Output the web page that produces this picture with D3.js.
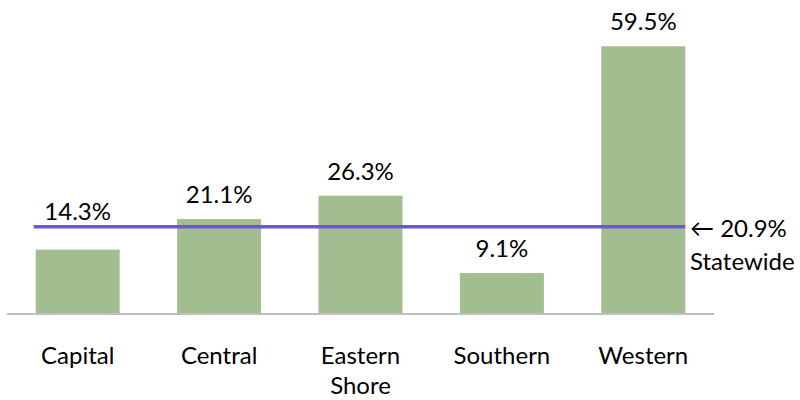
<!DOCTYPE html>
<html>
<head>
<meta charset="utf-8">
<script src="https://cdn.jsdelivr.net/npm/d3@7"></script>
<style>
  body { margin: 0; background: #fff; }
  text { font-family: Lato, "Open Sans", sans-serif; fill: #000; }
</style>
</head>
<body>
<div id="chart"></div>
<script>
const regions = [["Capital"], ["Central"], ["Eastern", "Shore"], ["Southern"], ["Western"]];
const shares = [14.3, 21.1, 26.3, 9.1, 59.5];
const statewide = 20.9;
// the reference line sits a little below 20.9 in the picture
const statewideDrawn = 19.4;

const width = 800, height = 400;
const svg = d3.select("#chart").append("svg")
  .attr("width", width)
  .attr("height", height);

const x = d3.scaleBand()
  .domain(d3.range(regions.length))
  .range([7, 714])
  .paddingInner(0.406)
  .paddingOuter(0.203);

const y = d3.scaleLinear()
  .domain([0, 60])
  .range([314, 44]);

// bars
svg.append("g")
  .selectAll("rect")
  .data(shares)
  .enter()
  .append("rect")
  .attr("x", (d, i) => x(i))
  .attr("y", d => y(d))
  .attr("width", x.bandwidth())
  .attr("height", d => y(0) - y(d))
  .style("fill", "#a2bd8f");

// baseline
svg.append("line")
  .attr("x1", x.range()[0])
  .attr("x2", x.range()[1])
  .attr("y1", y(0))
  .attr("y2", y(0))
  .style("stroke", "#bfbfbf")
  .style("stroke-width", 2);

// statewide line
const lineY = y(statewideDrawn);
svg.append("line")
  .attr("x1", x(0) - 2)
  .attr("x2", x(regions.length - 1) + x.bandwidth())
  .attr("y1", lineY)
  .attr("y2", lineY)
  .style("stroke", "#6a5acd")
  .style("stroke-width", 3.5);

// value labels, pushed above the line when they would sit on it
svg.append("g")
  .selectAll("text")
  .data(shares)
  .enter()
  .append("text")
  .attr("x", (d, i) => x(i) + x.bandwidth() / 2)
  .attr("y", d => {
    let b = y(d) - 16;
    if (b > lineY - 7 && b < lineY + 16) b = lineY - 7;
    return b;
  })
  .attr("text-anchor", "middle")
  .style("font-size", "24px")
  .text(d => d.toFixed(1) + "%");

// category labels
const cats = svg.append("g")
  .selectAll("text")
  .data(regions)
  .enter()
  .append("text")
  .attr("x", (d, i) => x(i) + x.bandwidth() / 2)
  .attr("y", 364)
  .attr("text-anchor", "middle")
  .style("font-size", "24px");
cats.selectAll("tspan")
  .data(d => d)
  .enter()
  .append("tspan")
  .attr("x", function() { return this.parentNode.getAttribute("x"); })
  .attr("dy", (d, i) => i === 0 ? 0 : 30)
  .text(d => d);

// statewide annotation
const note = svg.append("text")
  .attr("x", 690)
  .attr("y", lineY + 10)
  .style("font-size", "24px");
note.append("tspan").text("\u2190 " + statewide.toFixed(1) + "%");
note.append("tspan").attr("x", 690).attr("dy", 33).text("Statewide");
</script>
</body>
</html>
